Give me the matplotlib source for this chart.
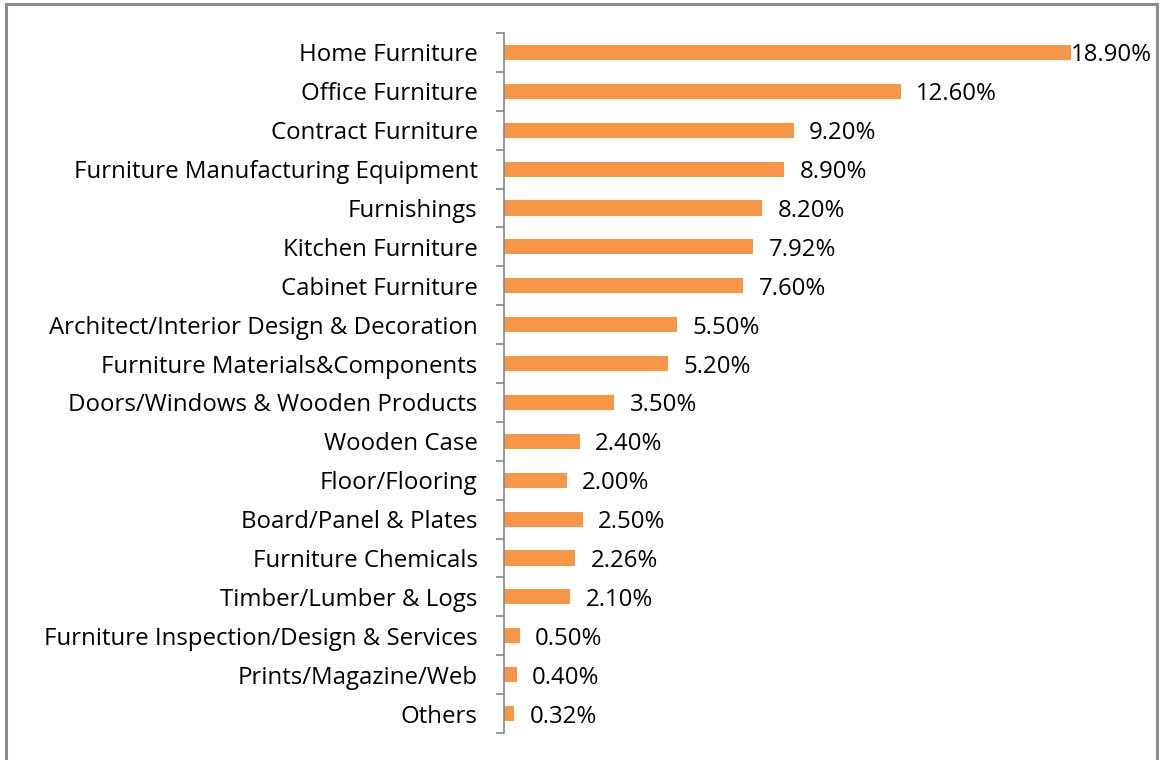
import matplotlib.pyplot as plt
from matplotlib.patches import Rectangle

# categories, top to bottom
categories = ['Home Furniture', 'Office Furniture', 'Contract Furniture',
              'Furniture Manufacturing Equipment', 'Furnishings', 'Kitchen Furniture',
              'Cabinet Furniture', 'Architect/Interior Design & Decoration',
              'Furniture Materials&Components', 'Doors/Windows & Wooden Products',
              'Wooden Case', 'Floor/Flooring', 'Board/Panel & Plates',
              'Furniture Chemicals', 'Timber/Lumber & Logs',
              'Furniture Inspection/Design & Services', 'Prints/Magazine/Web', 'Others']
shares = [18.90, 12.60, 9.20, 8.90, 8.20, 7.92, 7.60, 5.50, 5.20, 3.50,
          2.40, 2.00, 2.50, 2.26, 2.10, 0.50, 0.40, 0.32]

plt.rcParams['font.family'] = ['Open Sans', 'DejaVu Sans']

fig = plt.figure(figsize=(11.6, 7.6), dpi=100)
ax = fig.add_axes([504/1160, 1 - 733/760, (1071 - 504)/1160, 700/760])

n = len(categories)
ypos = list(range(n))
ax.barh(ypos, shares, height=0.39, color='#F79646', zorder=2)
ax.set_xlim(0, 18)
ax.set_ylim(n - 0.5, -0.5)

fs = 17.3
# value labels
for y, v in zip(ypos, shares):
    if v > 18:
        ax.annotate(f'{v:.2f}%', (18, y), xytext=(0, 0), textcoords='offset points',
                    va='center_baseline', ha='left', fontsize=fs, annotation_clip=False)
    else:
        ax.annotate(f'{v:.2f}%', (v, y), xytext=(11, 0), textcoords='offset points',
                    va='center_baseline', ha='left', fontsize=fs)

ax.set_yticks(ypos)
ax.set_yticklabels(categories, fontsize=fs)
ax.set_yticks([i - 0.5 for i in range(n + 1)], minor=True)
ax.tick_params(axis='y', which='major', length=0, pad=19)
ax.tick_params(axis='y', which='minor', length=6, width=1.2, color='#868686')
ax.set_xticks([])
for s in ['top', 'right', 'bottom']:
    ax.spines[s].set_visible(False)
ax.spines['left'].set_color('#868686')
ax.spines['left'].set_linewidth(1.2)

# outer chart frame
fig.patches.append(Rectangle((6/1160, -0.02), (1157 - 6)/1160, 1.02 - 4/760,
                             transform=fig.transFigure, fill=False,
                             edgecolor='#8c8c8c', linewidth=2.2))

fig.savefig('out.png', dpi=100)
